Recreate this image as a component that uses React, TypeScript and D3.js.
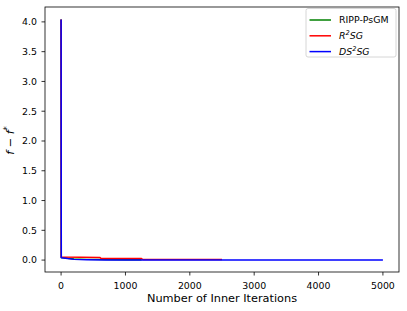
import React from 'react';
import * as d3 from 'd3';

// iterations / gap values
const greenIters = [0, 3, 100, 200, 400, 700, 1000, 1250];
const greenVals = [4.04, 0.045, 0.03, 0.02, 0.012, 0.008, 0.006, 0.005];
const redIters = [0, 3, 300, 600, 620, 1250, 1270, 2500];
const redVals = [4.04, 0.05, 0.047, 0.044, 0.028, 0.026, 0.01, 0.008];
const blueIters = [0, 3, 100, 200, 400, 700, 1600, 3000, 5000];
const blueVals = [4.04, 0.04, 0.025, 0.012, 0.006, 0.003, 0.001, 0.0005, 0.0];

const series = [
  { name: 'RIPP-PsGM', color: '#008000', x: greenIters, y: greenVals },
  { name: 'R2SG', color: '#ff0000', x: redIters, y: redVals },
  { name: 'DS2SG', color: '#0000ff', x: blueIters, y: blueVals },
];

const xTicks = [0, 1000, 2000, 3000, 4000, 5000];
const yTicks = [0, 0.5, 1.0, 1.5, 2.0, 2.5, 3.0, 3.5, 4.0];

export default function App() {
  const W = 407, H = 311;
  const left = 45, right = 399, top = 7, bottom = 272;
  const x = d3.scaleLinear().domain([-250, 5250]).range([left, right]);
  const y = d3.scaleLinear().domain([-0.2, 4.25]).range([bottom, top]);
  const line = d3.line<[number, number]>().x(d => x(d[0])).y(d => y(d[1]));
  const font = 'DejaVu Sans, sans-serif';
  const fs = 9.4;

  return (
    <div style={{ position: 'absolute', left: 0, top: 0 }}>
      <svg width={W} height={H} style={{ display: 'block', background: '#fff' }}>
        <defs>
          <clipPath id="clip">
            <rect x={left} y={top} width={right - left} height={bottom - top} />
          </clipPath>
        </defs>
        <g clipPath="url(#clip)">
          {series.map(s => (
            <path key={s.name} d={line(s.x.map((v, i) => [v, s.y[i]] as [number, number])) || ''}
              fill="none" stroke={s.color} strokeWidth={1.5} strokeLinejoin="round" />
          ))}
        </g>
        <rect x={left} y={top} width={right - left} height={bottom - top} fill="none" stroke="#000" strokeWidth={0.8} />
        {xTicks.map(t => (
          <g key={t}>
            <line x1={x(t)} x2={x(t)} y1={bottom} y2={bottom + 3.5} stroke="#000" strokeWidth={0.8} />
            <text x={x(t)} y={bottom + 17} textAnchor="middle" fontSize={fs} fontFamily={font}>{t}</text>
          </g>
        ))}
        {yTicks.map(t => (
          <g key={t}>
            <line x1={left - 3.5} x2={left} y1={y(t)} y2={y(t)} stroke="#000" strokeWidth={0.8} />
            <text x={left - 8} y={y(t) + 3.4} textAnchor="end" fontSize={fs} fontFamily={font}>{t.toFixed(1)}</text>
          </g>
        ))}
        <text x={(left + right) / 2} y={301.5} textAnchor="middle" fontSize={11.3} fontFamily={font}>Number of Inner Iterations</text>
        <text transform={`translate(14,${(top + bottom) / 2 + 1}) rotate(-90)`} textAnchor="middle" fontSize={11.3} fontFamily={font} fontStyle="italic">
          f − f<tspan dy={-4.5} fontSize={8}>*</tspan>
        </text>
        {/* legend */}
        <rect x={306} y={8.5} width={90} height={48.5} rx={2} fill="#fff" stroke="#ccc" strokeWidth={0.8} />
        {series.map((s, i) => {
          const ly = 20 + i * 15.8;
          return (
            <g key={s.name}>
              <line x1={309.5} x2={331} y1={ly} y2={ly} stroke={s.color} strokeWidth={1.5} />
              <text x={339} y={ly + 3.4} fontSize={fs} fontFamily={font}>
                {i === 0 ? 'RIPP-PsGM' : i === 1 ? (
                  <tspan fontStyle="italic">R<tspan dy={-3.8} fontSize={6.6}>2</tspan><tspan dy={3.8}>SG</tspan></tspan>
                ) : (
                  <tspan fontStyle="italic">DS<tspan dy={-3.8} fontSize={6.6}>2</tspan><tspan dy={3.8}>SG</tspan></tspan>
                )}
              </text>
            </g>
          );
        })}
      </svg>
    </div>
  );
}
